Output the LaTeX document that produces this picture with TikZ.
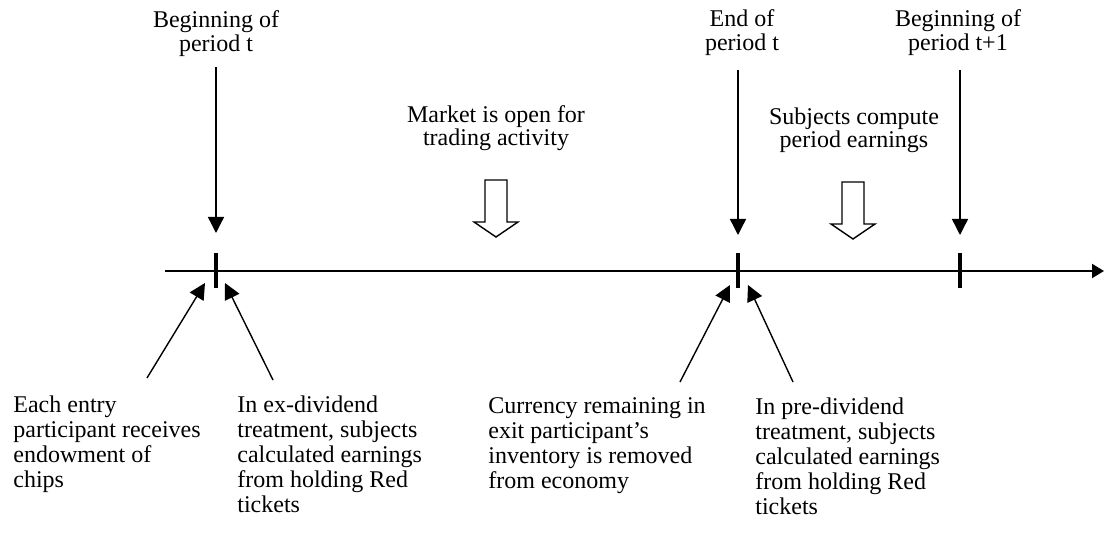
\documentclass[tikz,border=0pt]{standalone}
\usepackage{fontspec}
\setmainfont{Liberation Serif}
\usetikzlibrary{calc, arrows.meta}

\begin{document}
\begin{tikzpicture}[x=0.5pt, y=-0.5pt,
        tip/.style={-{Triangle[length=8pt, width=8pt]}, line width=0.7pt},
        tickmark/.style={line width=2pt},
        toplabel/.style={align=center, anchor=north, inner sep=0pt, font=\fontsize{12}{12}\selectfont},
        midlabel/.style={align=center, anchor=north, inner sep=0pt, font=\fontsize{12}{11.5}\selectfont},
        note/.style={align=left, anchor=north west, inner sep=0pt, font=\fontsize{12}{12.5}\selectfont}]
    \useasboundingbox (0,0) rectangle (1105,534);

    % time axis
    \coordinate (axisL) at (165,271);
    \coordinate (axisR) at (1104,271);
    \draw[line width=1pt, -{Triangle[length=6pt, width=7pt]}] (axisL) -- (axisR);

    \coordinate (t0) at (216,271);
    \coordinate (t1) at (738,271);
    \coordinate (t2) at (960,271);
    \foreach \t in {t0, t1, t2}
        \draw[tickmark] ($(\t)+(0,-18)$) -- ($(\t)+(0,17)$);

    % labels above the axis
    \node[toplabel] (begT) at (216,10) {Beginning of\\period t};
    \node[toplabel] (endT) at (742,9) {End of\\period t};
    \node[toplabel] (begTT) at (958,9) {Beginning of\\period t+1};

    \draw[tip] ([yshift=-5pt]begT.south -| t0) -- ($(t0)+(0,-38)$);
    \draw[tip] ([yshift=-7pt]endT.south -| t1) -- ($(t1)+(0,-36)$);
    \draw[tip] ([yshift=-7pt]begTT.south -| t2) -- ($(t2)+(0,-36)$);

    \node[midlabel] (market) at (496,105) {Market is open for\\trading activity};
    \node[midlabel] (compute) at (854,107) {Subjects compute\\period earnings};

    % hollow block arrows
    \foreach \x/\y in {496/180, 853/182}
        \draw[line width=0.7pt] ({\x-11},\y) -- ({\x-11},{\y+42}) -- ({\x-22},{\y+42})
            -- (\x,{\y+57}) -- ({\x+22},{\y+42}) -- ({\x+11},{\y+42}) -- ({\x+11},\y) -- cycle;

    % notes below the axis
    \node[note] (entry) at (13,395) {Each entry\\participant receives\\endowment of\\chips};
    \node[note] (exdiv) at (237,395) {In ex-dividend\\treatment, subjects\\calculated earnings\\from holding Red\\tickets};
    \node[note] (exit) at (488,397) {Currency remaining in\\exit participant's\\inventory is removed\\from economy};
    \node[note] (prediv) at (755,397) {In pre-dividend\\treatment, subjects\\calculated earnings\\from holding Red\\tickets};

    \coordinate (a1) at (147,378);
    \coordinate (a2) at (273,380);
    \coordinate (a3) at (680,382);
    \coordinate (a4) at (793,382);
    \draw[tip] (a1) -- ($(t0)+(-11,12)$);
    \draw[tip] (a2) -- ($(t0)+(9,12)$);
    \draw[tip] (a3) -- ($(t1)+(-8,14)$);
    \draw[tip] (a4) -- ($(t1)+(10,14)$);
\end{tikzpicture}
\end{document}
